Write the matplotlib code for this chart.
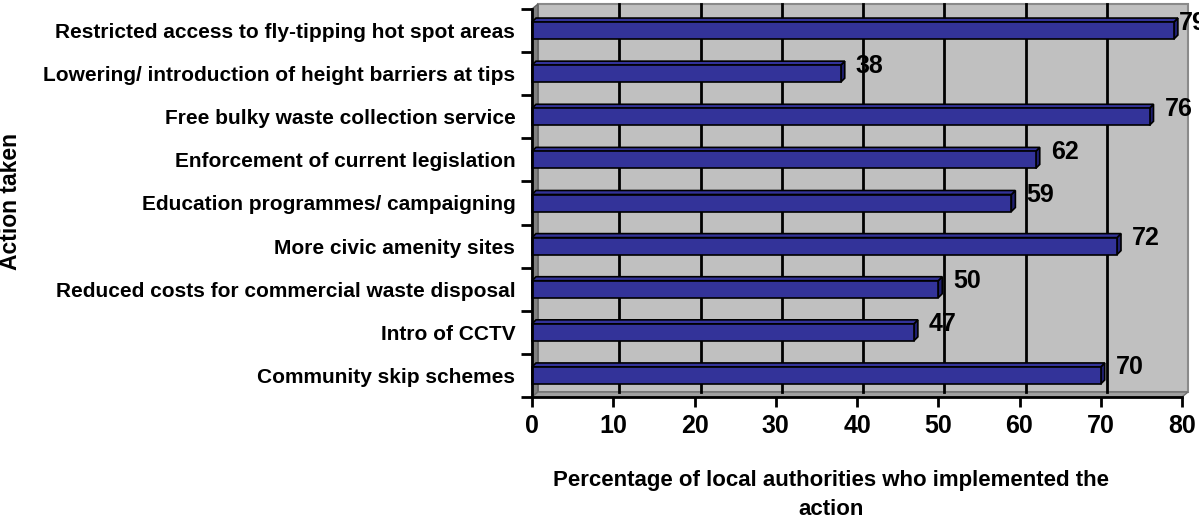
import matplotlib.pyplot as plt
from matplotlib.patches import Polygon, Rectangle
import numpy as np

plt.rcParams['font.family'] = ['Liberation Sans', 'DejaVu Sans']
plt.rcParams['font.weight'] = 'bold'

actions = [
    "Restricted access to fly-tipping hot spot areas",
    "Lowering/ introduction of height barriers at tips",
    "Free bulky waste collection service",
    "Enforcement of current legislation",
    "Education programmes/ campaigning",
    "More civic amenity sites",
    "Reduced costs for commercial waste disposal",
    "Intro of CCTV",
    "Community skip schemes",
]
percent = [79, 38, 76, 62, 59, 72, 50, 47, 70]
x_ticks = [0, 10, 20, 30, 40, 50, 60, 70, 80]

W, H = 1199, 522
fig = plt.figure(figsize=(W / 100, H / 100), dpi=100)
# front plane of the 3d box, in pixels
left, right, top, bottom = 532, 1182, 9, 397
ax = fig.add_axes([left / W, (H - bottom) / H, (right - left) / W, (bottom - top) / H])
n = len(actions)
ax.set_xlim(0, 80)
ax.set_ylim(0, n)

# data units per pixel
ux = 80 / (right - left)
uy = n / (bottom - top)
dx, dy = 6 * ux, 5 * uy  # wall depth

# back wall, side wall and floor
ax.add_patch(Rectangle((dx, dy), 80, n, facecolor='#c0c0c0', edgecolor='#8a8a8a',
                       lw=1.5, zorder=0, clip_on=False))
ax.add_patch(Polygon([(0, 0), (0, n), (dx, n + dy), (dx, dy)], closed=True,
                     facecolor='#808080', edgecolor='#606060', lw=1, zorder=0.5, clip_on=False))
ax.add_patch(Polygon([(0, 0), (80, 0), (80 + dx, dy), (dx, dy)], closed=True,
                     facecolor='#a0a0a0', edgecolor='#707070', lw=1, zorder=0.5, clip_on=False))
for t in x_ticks[1:-1]:
    ax.plot([t + dx, t + dx], [dy, n + dy], color='black', lw=2, zorder=1, clip_on=False)

# 3d bars
bh = 17 * uy
bx, by = 4 * ux, 4 * uy
centers = n - 0.5 - np.arange(n)
for c, v in zip(centers, percent):
    y0 = c - bh / 2
    front = Polygon([(0, y0), (v, y0), (v, y0 + bh), (0, y0 + bh)], closed=True,
                    facecolor='#333399', edgecolor='black', lw=1.2, zorder=3, clip_on=False)
    topf = Polygon([(0, y0 + bh), (v, y0 + bh), (v + bx, y0 + bh + by), (bx, y0 + bh + by)],
                   closed=True, facecolor='#333399', edgecolor='black', lw=1.2, zorder=3,
                   clip_on=False)
    side = Polygon([(v, y0), (v + bx, y0 + by), (v + bx, y0 + bh + by), (v, y0 + bh)],
                   closed=True, facecolor='#1f1f70', edgecolor='black', lw=1.2, zorder=3,
                   clip_on=False)
    for p in (side, topf, front):
        ax.add_patch(p)
    # labels that would run past the chart edge are pulled in next to the bar end
    lx = v + 15 * ux
    if lx + 25 * ux > 80 + 17 * ux:
        lx = v + bx + 1 * ux
    ax.text(lx, c + 8 * uy, str(v), fontsize=18, fontweight='bold', ha='left',
            va='center', zorder=4, clip_on=False)

for s in ('top', 'right'):
    ax.spines[s].set_visible(False)
for s in ('left', 'bottom'):
    ax.spines[s].set_linewidth(2)
    ax.spines[s].set_zorder(5)

ax.set_xticks(x_ticks)
ax.set_xticklabels([str(t) for t in x_ticks], fontsize=18, fontweight='bold')
ax.set_yticks(np.arange(n + 1))
ax.set_yticklabels([])
ax.set_yticks(centers, minor=True)
ax.set_yticklabels(actions, minor=True, fontsize=15, fontweight='bold')
ax.tick_params(axis='y', which='major', direction='out', length=8, width=2)
ax.tick_params(axis='y', which='minor', length=0, pad=12)
ax.tick_params(axis='x', direction='out', length=7, width=2, pad=5)

fig.text(831 / W, 1 - 495 / H,
         "Percentage of local authorities who implemented the\naction",
         fontsize=16, fontweight='bold', ha='center', va='center',
         multialignment='center', linespacing=1.45)
fig.text(11 / W, 1 - 202 / H, "Action taken", rotation=90, fontsize=16.5,
         fontweight='bold', ha='center', va='center')

fig.savefig("out.png", dpi=100)
